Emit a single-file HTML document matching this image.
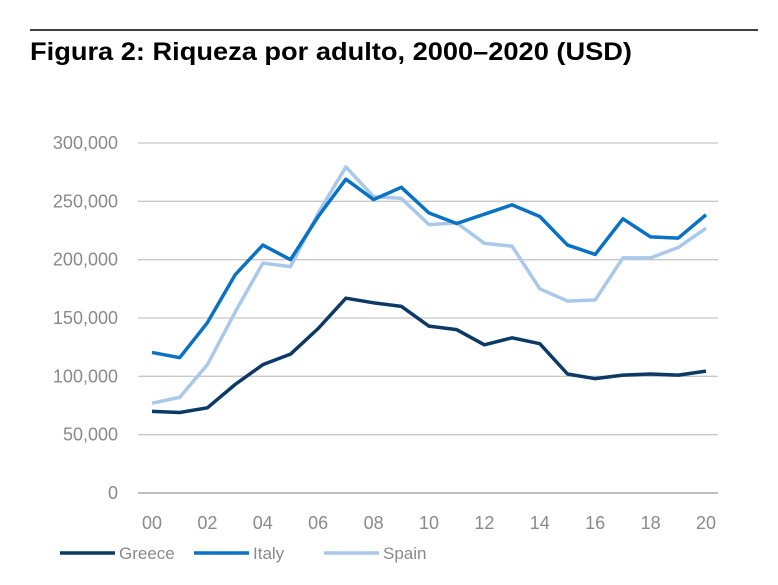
<!DOCTYPE html>
<html><head><meta charset="utf-8"><style>
body{margin:0;background:#fff;font-family:"Liberation Sans",sans-serif}
</style></head><body>
<svg width="778" height="580" viewBox="0 0 778 580">
<line x1="30" y1="30" x2="758" y2="30" stroke="#000" stroke-width="1.5"/>
<text x="30" y="60" font-size="25" font-weight="bold" fill="#000" textLength="602" lengthAdjust="spacingAndGlyphs">Figura 2: Riqueza por adulto, 2000–2020 (USD)</text>
<g id="grid"></g><g id="lines"></g><g id="legend"></g>
</svg>
<script>
const years=["00","01","02","03","04","05","06","07","08","09","10","11","12","13","14","15","16","17","18","19","20"];
const xTickLabels=["00","02","04","06","08","10","12","14","16","18","20"];
const yTicks=[0,50000,100000,150000,200000,250000,300000];
const greece=[70,69,73,93,110,119,141,167,163,160,143,140,127,133,128,102,98,101,102,101,104.5];
const italy=[120.5,116,146,187,212.5,200,237,269,251.5,262,240,231,239,247,237,212.5,204.5,235,219.5,218.5,238.5];
const spain=[77,82,110,155,197,194,240,279.5,254,252.5,230,231.5,214,211.5,175,164.5,165.5,201.5,201.5,210.5,227];
const ns="http://www.w3.org/2000/svg";
const X0=152,X1=706,Y0=493,Y1=143;
const xs=i=>X0+i*(X1-X0)/(years.length-1);
const ys=v=>Y0-(v/300000)*(Y0-Y1);
function mk(t,a){const e=document.createElementNS(ns,t);for(const k in a)e.setAttribute(k,a[k]);return e;}
const grid=document.getElementById('grid');
yTicks.forEach(v=>{
 const l=mk('line',{x1:138,x2:718,y1:ys(v),y2:ys(v),stroke:v===0?'#999':'#c8c8c8','stroke-width':1.3});
 
 
 grid.appendChild(l);
 const t=mk('text',{x:118,y:ys(v)+6,'text-anchor':'end','font-size':18,fill:'#8a8a8a'});
 t.textContent=v.toLocaleString('en-US');
 
 
 grid.appendChild(t);
});
xTickLabels.forEach(lb=>{
 const i=years.indexOf(lb);
 const t=mk('text',{x:xs(i),y:529,'text-anchor':'middle','font-size':18,fill:'#8a8a8a'});
 t.textContent=lb;
 
 
 grid.appendChild(t);
});
const series=[["Greece",greece,"#0b3a66"],["Italy",italy,"#0a72c4"],["Spain",spain,"#a9c8ea"]];
const lines=document.getElementById('lines');
[series[2],series[1],series[0]].forEach(s=>{
 const p=mk('polyline',{points:s[1].map((v,i)=>xs(i)+','+ys(v*1000)).join(' '),fill:'none',stroke:s[2],'stroke-width':3.5,'stroke-linejoin':'round'});
 
 
 lines.appendChild(p);
});
const lg=document.getElementById('legend');
const lx=[60,194,324];
series.forEach((s,k)=>{
 const l=mk('line',{x1:lx[k],x2:lx[k]+55,y1:553,y2:553,stroke:s[2],'stroke-width':3.5});
 
 
 lg.appendChild(l);
 const t=mk('text',{x:lx[k]+59,y:559,'font-size':17,fill:'#8a8a8a'});
 t.textContent=s[0];
 
 
 lg.appendChild(t);
});
</script>
</body></html>
